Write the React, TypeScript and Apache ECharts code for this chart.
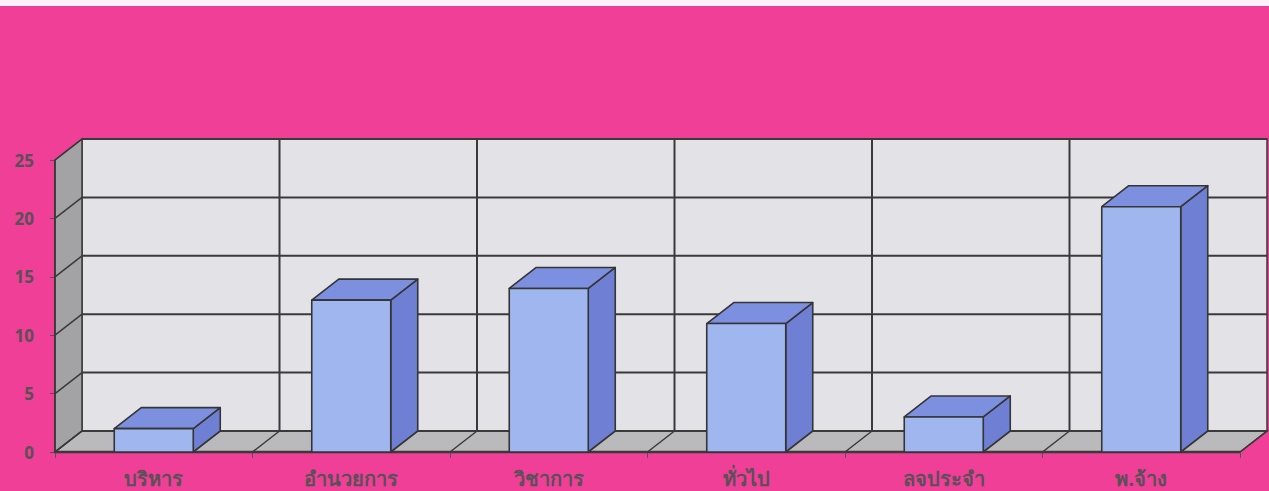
import React, { useEffect, useRef } from "react";
import * as echarts from "echarts";

const categories = ["บริหาร", "อำนวยการ", "วิชาการ", "ทั่วไป", "ลจประจำ", "พ.จ้าง"];
const values = [2, 13, 14, 11, 3, 21];
const yTicks = [0, 5, 10, 15, 20, 25];

const DX = 27;
const DY = -21;
const FONT = "'Noto Sans', 'DejaVu Sans', sans-serif";

export default function App() {
  const ref = useRef<HTMLDivElement>(null);
  useEffect(() => {
    if (!ref.current) return;
    const chart = echarts.init(ref.current, undefined, { renderer: "svg" });
    const n = categories.length;
    const line = "#3a3a3a";

    const frameRender = (params: any, api: any) => {
      const cw = api.size([1, 0])[0];
      const L = api.coord([0, 0])[0] - cw / 2;
      const R = api.coord([n - 1, 0])[0] + cw / 2;
      const y0 = api.coord([0, 0])[1];
      const yT = api.coord([0, yTicks[yTicks.length - 1]])[1];
      const children: any[] = [];
      children.push({
        type: "polygon",
        shape: { points: [[L + DX, yT + DY], [R + DX, yT + DY], [R + DX, y0 + DY], [L + DX, y0 + DY]] },
        style: { fill: "#e3e3e7", stroke: line, lineWidth: 1.5 },
      });
      children.push({
        type: "polygon",
        shape: { points: [[L, yT], [L + DX, yT + DY], [L + DX, y0 + DY], [L, y0]] },
        style: { fill: "#a3a3a6", stroke: line, lineWidth: 1.5 },
      });
      children.push({
        type: "polygon",
        shape: { points: [[L, y0], [L + DX, y0 + DY], [R + DX, y0 + DY], [R, y0]] },
        style: { fill: "#bababc", stroke: line, lineWidth: 1.5 },
      });
      yTicks.forEach((v) => {
        const y = api.coord([0, v])[1];
        children.push({
          type: "line",
          shape: { x1: L + DX, y1: y + DY, x2: R + DX, y2: y + DY },
          style: { stroke: line, lineWidth: 2 },
        });
        children.push({
          type: "line",
          shape: { x1: L, y1: y, x2: L + DX, y2: y + DY },
          style: { stroke: line, lineWidth: 1.5 },
        });
      });
      for (let k = 0; k <= n; k++) {
        const x = L + cw * k;
        if (k > 0 && k < n) {
          children.push({
            type: "line",
            shape: { x1: x + DX, y1: yT + DY, x2: x + DX, y2: y0 + DY },
            style: { stroke: line, lineWidth: 2 },
          });
        }
        children.push({
          type: "line",
          shape: { x1: x, y1: y0, x2: x + DX, y2: y0 + DY },
          style: { stroke: line, lineWidth: 1.5 },
        });
      }
      children.push({
        type: "line",
        shape: { x1: L, y1: y0, x2: R, y2: y0 },
        style: { stroke: line, lineWidth: 2.5 },
      });
      children.push({
        type: "line",
        shape: { x1: L, y1: yT, x2: L, y2: y0 },
        style: { stroke: line, lineWidth: 1.5 },
      });
      return { type: "group", children };
    };

    const barRender = (params: any, api: any) => {
      const idx = api.value(0);
      const v = api.value(1);
      const cw = api.size([1, 0])[0];
      const bw = cw * 0.4;
      const p = api.coord([idx, v]);
      const b = api.coord([idx, 0]);
      const x1 = p[0] - bw / 2;
      const x2 = p[0] + bw / 2;
      const yt = p[1];
      const yb = b[1];
      const st = { stroke: "#353535", lineWidth: 1.6, lineJoin: "round" };
      return {
        type: "group",
        children: [
          {
            type: "polygon",
            shape: { points: [[x2, yt], [x2 + DX, yt + DY], [x2 + DX, yb + DY], [x2, yb]] },
            style: { fill: "#6f80d4", ...st },
          },
          {
            type: "polygon",
            shape: { points: [[x1, yt], [x1 + DX, yt + DY], [x2 + DX, yt + DY], [x2, yt]] },
            style: { fill: "#7d90e0", ...st },
          },
          {
            type: "rect",
            shape: { x: x1, y: yt, width: bw, height: yb - yt },
            style: { fill: "#a0b6ef", ...st },
          },
        ],
      };
    };

    chart.setOption({
      animation: false,
      backgroundColor: "#ef3f97",
      graphic: [
        { type: "rect", left: 0, top: 0, shape: { width: 1269, height: 6 }, style: { fill: "#fbf3f7" } },
      ],
      grid: { left: 55, right: 29, top: 160, bottom: 39 },
      xAxis: {
        type: "category",
        data: categories,
        axisLine: { show: true, lineStyle: { color: "#3a3a3a", width: 2 } },
        axisTick: { show: true, interval: 0, length: 6, lineStyle: { color: "#555" } },
        axisLabel: {
          interval: 0,
          margin: 16,
          color: "#5a5058",
          fontSize: 20,
          fontWeight: "bold",
          fontFamily: FONT,
        },
      },
      yAxis: {
        type: "value",
        min: 0,
        max: 25,
        interval: 5,
        axisLine: { show: true, lineStyle: { color: "#3a3a3a", width: 1.5 } },
        axisTick: { show: true, length: 5, lineStyle: { color: "#555" } },
        splitLine: { show: false },
        axisLabel: {
          margin: 21,
          color: "#5a5058",
          fontSize: 17,
          fontWeight: "bold",
          fontFamily: FONT,
        },
      },
      series: [
        {
          type: "custom",
          z: 1,
          clip: false,
          silent: true,
          renderItem: frameRender,
          data: [[0, 0]],
        },
        {
          type: "custom",
          z: 3,
          clip: false,
          renderItem: barRender,
          data: values.map((v, i) => [i, v]),
        },
      ],
    });
    return () => chart.dispose();
  }, []);
  return (
    <div
      ref={ref}
      style={{ position: "fixed", left: 0, top: 0, width: 1269, height: 491 }}
    />
  );
}
